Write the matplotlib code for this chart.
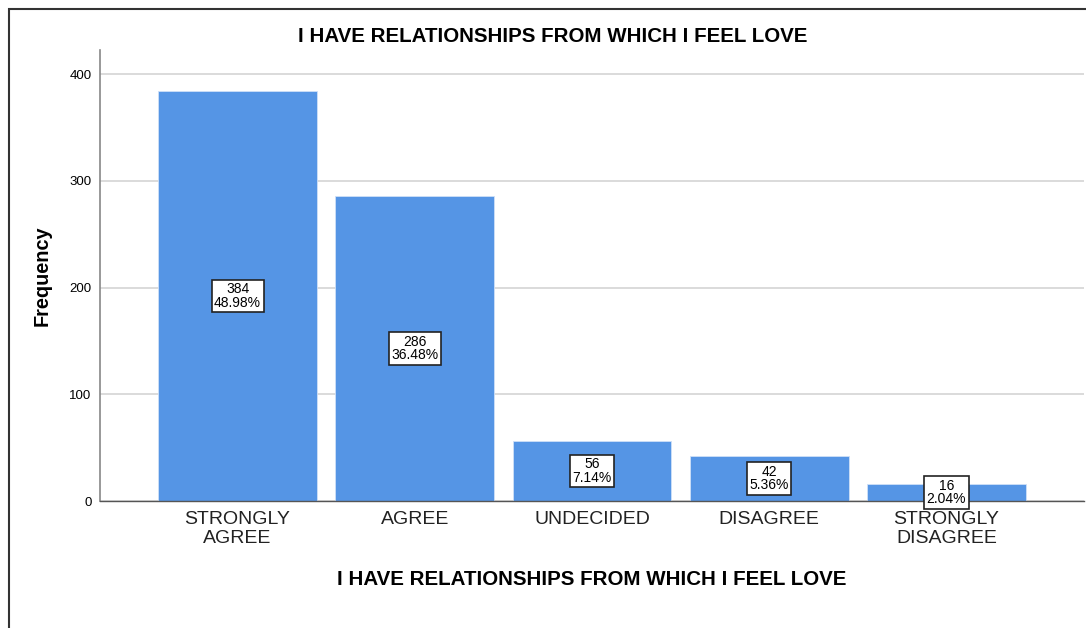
import matplotlib
matplotlib.use("Agg")
import matplotlib.pyplot as plt
from matplotlib.patches import Rectangle

plt.rcParams['font.family'] = ['Liberation Sans', 'DejaVu Sans']

categories = ["STRONGLY\nAGREE", "AGREE", "UNDECIDED", "DISAGREE", "STRONGLY\nDISAGREE"]
counts = [384, 286, 56, 42, 16]
percents = [48.98, 36.48, 7.14, 5.36, 2.04]
yticks = [0, 100, 200, 300, 400]
title = "I HAVE RELATIONSHIPS FROM WHICH I FEEL LOVE"

fig = plt.figure(figsize=(10.86, 6.28), dpi=100)
ax = fig.add_axes([100 / 1086, 1 - 501 / 628, 984 / 1086, 451 / 628])

x = list(range(len(categories)))
ax.bar(x, counts, width=0.897, color='#5595e5', edgecolor='#cfe0f7', linewidth=0.6, zorder=2)

for xi, c, p in zip(x, counts, percents):
    ax.text(xi, c / 2, f"{c}\n{p:.2f}%", ha='center', va='center', fontsize=10,
            linespacing=0.95, zorder=4,
            bbox=dict(boxstyle='square,pad=0.18', facecolor='white', edgecolor='#222222', linewidth=1.2))

ax.set_xlim(-0.776, 4.776)
ax.set_ylim(0, 422.5)
ax.set_yticks(yticks)
ax.tick_params(axis='y', length=0, labelsize=9.5, pad=6)
ax.set_xticks(x)
ax.set_xticklabels(categories, fontsize=14, color='#222222', linespacing=1.15)
ax.tick_params(axis='x', length=0, pad=7)
ax.yaxis.grid(True, color='#d4d4d4', linewidth=1.2, zorder=0)
ax.set_axisbelow(True)

for s in ['top', 'right']:
    ax.spines[s].set_visible(False)
ax.spines['left'].set_color('#888888')
ax.spines['bottom'].set_color('#555555')
ax.spines['left'].set_linewidth(1.2)
ax.spines['bottom'].set_linewidth(1.0)

ax.set_xlabel(title, fontsize=14.8, fontweight='bold', labelpad=17)
fig.text(42 / 1086, 1 - 276 / 628, "Frequency", rotation=90, fontsize=14.3, fontweight='bold',
         ha='center', va='center')
fig.text(553 / 1086, 1 - 37 / 628, title, fontsize=14.8, fontweight='bold', ha='center', va='center')

fig.patches.append(Rectangle((9 / 1086, -0.1), 1.2, 1 - 9 / 628 + 0.1, transform=fig.transFigure,
                             fill=False, edgecolor='#333333', linewidth=1.5))

fig.savefig("out.png", dpi=100)
